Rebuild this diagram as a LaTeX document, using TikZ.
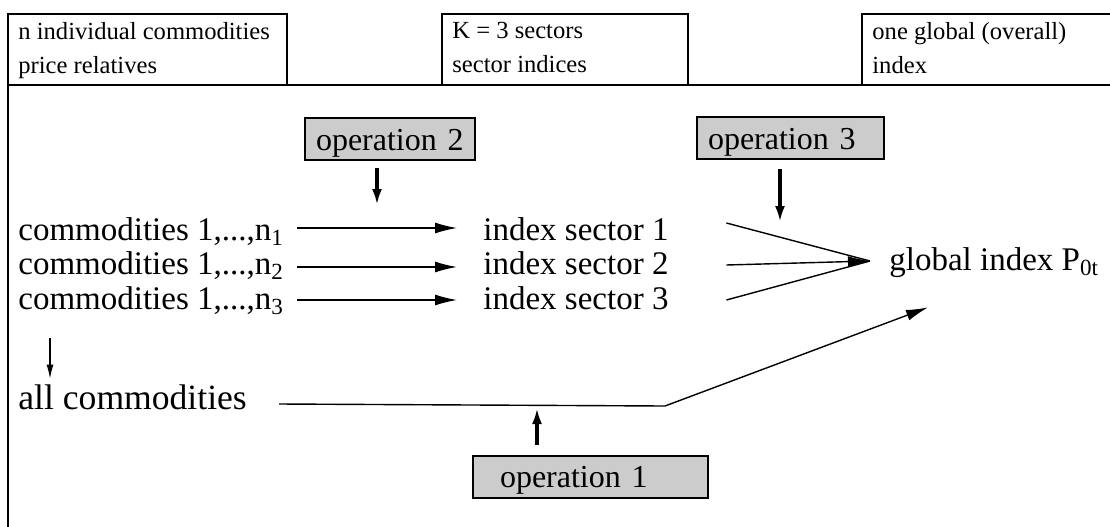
\documentclass[tikz,border=0pt]{standalone}
\usepackage{fontspec}
\setmainfont{Liberation Serif}
\usetikzlibrary{arrows.meta}
\begin{document}
\begin{tikzpicture}[x=0.5pt,y=-0.5pt,
  frame/.style={line width=1.2pt},
  hdr/.style={anchor=north west, inner sep=0pt, align=left, font=\fontsize{12.3}{17}\selectfont},
  lbl/.style={anchor=base west, inner sep=0pt, font=\fontsize{16.5}{19}\selectfont, text height=11pt, text depth=0pt},
  opbox/.style={draw, line width=1pt, fill=black!20, inner ysep=0pt, align=left,
    text height=16pt, text depth=5pt, font=\fontsize{16}{19}\selectfont},
  flow/.style={line width=0.7pt, -{Latex[length=11pt,width=5.5pt]}},
  plain/.style={line width=0.7pt},
  push/.style={line width=2pt, -{Latex[length=8pt,width=5pt]}},
  drop/.style={line width=0.6pt, -{Latex[length=7pt,width=3.5pt]}}
]
\path[use as bounding box, clip] (0,0) rectangle (1110,526);

% header boxes and frame
\draw[frame] (8,14) rectangle (287,85);
\draw[frame] (442,14) rectangle (688,85);
\draw[frame] (862,85) |- (1120,14);
\draw[frame] (8,85) -- (1120,85);
\draw[frame] (8,85) -- (8,540);

\node[hdr] (h1) at (18,22) {n individual commodities\\price relatives};
\node[hdr] (h2) at (452,22) {K = 3 sectors\\sector indices};
\node[hdr] (h3) at (872,22) {one global (overall)\\index};

% operation boxes
\node[opbox, inner xsep=5.5pt, text width=74pt] (op2) at (390,139) {operation 2};
\node[opbox, inner xsep=5.5pt, text width=82.5pt] (op3) at (790.5,138) {operation 3};
\node[opbox, inner xsep=13.5pt, text width=90.5pt] (op1) at (590.5,476.5) {operation 1};

% commodity groups and sector indices
\node[lbl] (c1) at (18,240) {commodities 1,...,n\textsubscript{1}};
\node[lbl] (c2) at (18,274) {commodities 1,...,n\textsubscript{2}};
\node[lbl] (c3) at (18,309) {commodities 1,...,n\textsubscript{3}};
\node[lbl] (s1) at (483,240) {index sector 1};
\node[lbl] (s2) at (483,274) {index sector 2};
\node[lbl] (s3) at (483,309) {index sector 3};
\node[lbl] (glob) at (889,270) {global index P\textsubscript{0t}};
\node[lbl, font=\fontsize{17.8}{20}\selectfont] (all) at (18,409) {all commodities};

% commodities -> sectors
\draw[flow] ([xshift=6.5pt,yshift=0.5pt]c1.east) -- ([xshift=-13pt,yshift=0.5pt]s1.west);
\draw[flow] ([xshift=6.5pt,yshift=-2pt]c2.east) -- ([xshift=-13pt,yshift=-2pt]s2.west);
\draw[flow] ([xshift=6.5pt,yshift=-1pt]c3.east) -- ([xshift=-13pt,yshift=-1pt]s3.west);

% sectors -> global index
\coordinate (meet) at ([xshift=-9.5pt,yshift=-1pt]glob.west);
\draw[plain] ([xshift=28.75pt,yshift=3pt]s1.east) -- (meet);
\draw[flow] ([xshift=28.75pt,yshift=-1pt]s2.east) -- (meet);
\draw[plain] ([xshift=28.75pt,yshift=-1pt]s3.east) -- (meet);

% all commodities -> global index
\coordinate (bend) at (665,406);
\draw[flow] ([xshift=16pt,yshift=-3pt]all.east) -- (bend) -- ([xshift=19.5pt,yshift=-18.5pt]glob.south west);

% group -> all commodities
\draw[drop] ([xshift=16pt,yshift=-14.5pt]c3.south west) -- ([xshift=16pt,yshift=4pt]all.north west);

% operations acting on the flows
\coordinate (t2) at (377,205);
\coordinate (t3) at (780,222);
\coordinate (t1) at (537,408);
\draw[push] ([xshift=-6.5pt,yshift=-3.5pt]op2.south) -- (t2);
\draw[push] ([xshift=-5.25pt,yshift=-4.5pt]op3.south) -- (t3);
\draw[push] ([xshift=-26.75pt,yshift=5pt]op1.north) -- (t1);
\end{tikzpicture}
\end{document}
